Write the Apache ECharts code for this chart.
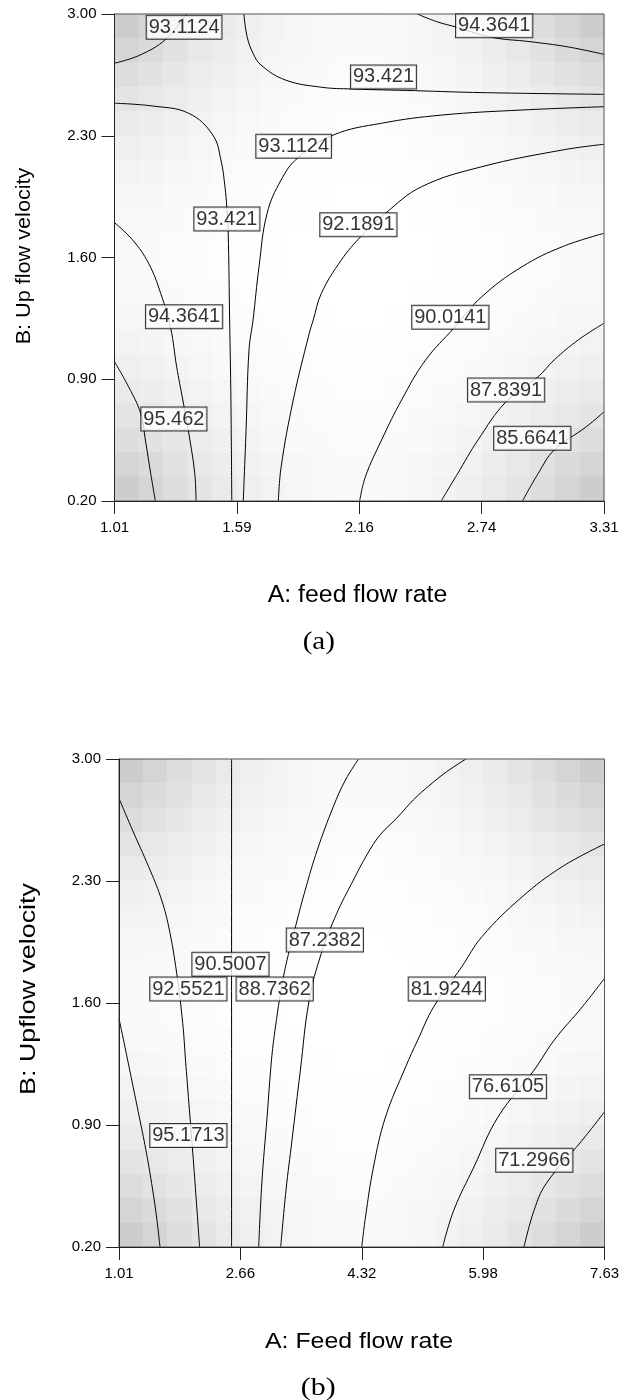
<!DOCTYPE html>
<html>
<head>
<meta charset="utf-8">
<title>Contour plots: feed flow rate vs upflow velocity</title>
<script src="https://cdn.jsdelivr.net/npm/echarts@6/dist/echarts.min.js"></script>
<style>
  html, body { margin: 0; padding: 0; background: #fff; }
  #chart { width: 629px; height: 1400px; }
</style>
</head>
<body>
<div id="chart"></div>
<script>
// ---------- axis ticks ----------
const X_TICKS_A = ['1.01', '1.59', '2.16', '2.74', '3.31'];
const X_TICKS_B = ['1.01', '2.66', '4.32', '5.98', '7.63'];
const Y_TICKS = ['0.20', '0.90', '1.60', '2.30', '3.00'];

// ---------- panel (a) contour lines: [A, B] ----------
const a_85_6641 = [[3.31, 0.713], [3.227, 0.627], [3.076, 0.493], [3.001, 0.359], [2.927, 0.2]];
const a_87_8391 = [[3.31, 1.222], [3.189, 1.126], [3.076, 1.011], [3.001, 0.915], [2.850, 0.771], [2.718, 0.551], [2.623, 0.359], [2.545, 0.2]];
const a_90_0141 = [[3.31, 1.739], [3.114, 1.662], [2.925, 1.547], [2.736, 1.375], [2.604, 1.193], [2.472, 1.011], [2.359, 0.781], [2.265, 0.551], [2.189, 0.340], [2.162, 0.2]];
const a_92_1891 = [[3.31, 2.251], [3.114, 2.218], [2.736, 2.122], [2.453, 2.007], [2.283, 1.854], [2.170, 1.724], [2.076, 1.586], [1.982, 1.394], [1.944, 1.241], [1.925, 1.164], [1.850, 0.781], [1.793, 0.397], [1.780, 0.2]];
const a_93_1124_top = [[1.01, 2.717], [1.130, 2.764], [1.251, 2.855], [1.349, 3.0]];
const a_93_1124_mid = [[3.31, 2.467], [2.925, 2.448], [2.548, 2.419], [2.265, 2.372], [2.038, 2.304], [1.869, 2.170], [1.793, 2.046], [1.727, 1.854], [1.689, 1.547], [1.661, 1.241], [1.642, 1.068], [1.628, 0.600], [1.615, 0.2]];
const a_93_421_upper = [[1.618, 3.0], [1.633, 2.870], [1.661, 2.774], [1.698, 2.707], [1.812, 2.621], [1.982, 2.579], [2.123, 2.569], [2.425, 2.559], [2.736, 2.548], [3.31, 2.538]];
const a_93_421_lower = [[1.01, 2.487], [1.189, 2.471], [1.359, 2.429], [1.472, 2.304], [1.510, 2.161], [1.529, 2.007], [1.538, 1.883], [1.544, 1.754], [1.551, 1.241], [1.557, 0.781], [1.561, 0.2]];
const a_94_3641_top = [[2.433, 3.0], [2.524, 2.956], [2.618, 2.924], [2.782, 2.866], [2.962, 2.841], [3.135, 2.812], [3.31, 2.768]];
const a_94_3641_left = [[1.01, 1.800], [1.095, 1.701], [1.170, 1.567], [1.227, 1.394], [1.274, 1.193], [1.302, 0.972], [1.331, 0.781], [1.359, 0.589], [1.387, 0.359], [1.393, 0.2]];
const a_95_462 = [[1.01, 1.001], [1.076, 0.857], [1.133, 0.704], [1.155, 0.551], [1.180, 0.359], [1.202, 0.2]];

const CONTOURS_A = [a_85_6641, a_87_8391, a_90_0141, a_92_1891, a_93_1124_top, a_93_1124_mid,
  a_93_421_upper, a_93_421_lower, a_94_3641_top, a_94_3641_left, a_95_462];

// contour level labels: [A, B, level]
const LABELS_A = [
  [1.337, 2.924, 93.1124], [2.794, 2.933, 94.3641], [2.274, 2.638, 93.421],
  [1.852, 2.240, 93.1124], [1.538, 1.821, 93.421], [2.156, 1.789, 92.1891],
  [1.337, 1.260, 94.3641], [2.588, 1.257, 90.0141], [2.850, 0.838, 87.8391],
  [1.289, 0.671, 95.462], [2.973, 0.561, 85.6641]
];

// ---------- panel (b) contour lines: [A, B] ----------
const b_71_2966 = [[7.63, 0.975], [7.327, 0.813], [6.835, 0.564], [6.670, 0.411], [6.532, 0.2]];
const b_76_6105 = [[7.63, 1.741], [7.327, 1.578], [6.944, 1.387], [6.670, 1.215], [6.178, 0.946], [5.849, 0.659], [5.575, 0.411], [5.424, 0.2]];
const b_81_9244 = [[7.63, 2.512], [7.053, 2.382], [6.506, 2.209], [5.958, 1.980], [5.684, 1.808], [5.301, 1.578], [5.083, 1.387], [4.918, 1.233], [4.644, 0.946], [4.480, 0.659], [4.371, 0.372], [4.320, 0.2]];
const b_87_2382 = [[5.741, 3.0], [5.478, 2.927], [5.250, 2.851], [5.023, 2.765], [4.796, 2.660], [4.569, 2.564], [4.390, 2.450], [4.206, 2.305], [3.980, 2.115], [3.768, 1.884], [3.603, 1.616], [3.483, 1.214], [3.369, 0.813], [3.287, 0.526], [3.215, 0.2]];
const b_88_7362 = [[4.277, 3.0], [4.097, 2.879], [3.932, 2.726], [3.714, 2.478], [3.549, 2.248], [3.440, 2.076], [3.301, 1.846], [3.220, 1.674], [3.137, 1.444], [3.089, 1.272], [3.029, 0.946], [2.957, 0.564], [2.915, 0.2]];
const b_90_5007 = [[2.545, 3.0], [2.545, 0.2]];
const b_92_5521 = [[1.01, 2.774], [1.194, 2.592], [1.414, 2.382], [1.577, 2.209], [1.688, 2.037], [1.797, 1.770], [1.879, 1.483], [1.917, 1.272], [1.962, 1.030], [2.016, 0.740], [2.065, 0.460], [2.109, 0.2]];
const b_95_1713 = [[1.01, 1.511], [1.100, 1.330], [1.190, 1.145], [1.285, 0.950], [1.375, 0.760], [1.455, 0.565], [1.520, 0.380], [1.569, 0.2]];

const CONTOURS_B = [b_71_2966, b_76_6105, b_81_9244, b_87_2382, b_88_7362, b_90_5007, b_92_5521, b_95_1713];

const LABELS_B = [
  [3.817, 1.961, 87.2382], [2.530, 1.823, 90.5007], [1.956, 1.680, 92.5521],
  [3.133, 1.680, 88.7362], [5.480, 1.680, 81.9244], [6.314, 1.119, 76.6105],
  [1.956, 0.840, 95.1713], [6.673, 0.698, 71.2966]
];

// ---------- background shading (grey level per cell, top row first) ----------
const SHADE = [
  [205, 213, 221, 228, 234, 239, 243, 246, 248, 249, 249, 248, 246, 243, 239, 234, 228, 221, 213, 205],
  [213, 219, 226, 232, 237, 241, 245, 247, 249, 250, 250, 249, 247, 245, 241, 237, 232, 226, 219, 213],
  [221, 226, 231, 236, 240, 244, 247, 249, 250, 251, 251, 250, 249, 247, 244, 240, 236, 231, 226, 221],
  [228, 232, 236, 240, 243, 246, 248, 250, 251, 252, 252, 251, 250, 248, 246, 243, 240, 236, 232, 228],
  [234, 237, 240, 243, 246, 248, 250, 251, 252, 253, 253, 252, 251, 250, 248, 246, 243, 240, 237, 234],
  [239, 241, 244, 246, 248, 250, 251, 252, 253, 254, 254, 253, 252, 251, 250, 248, 246, 244, 241, 239],
  [243, 245, 247, 248, 250, 251, 252, 253, 254, 254, 254, 254, 253, 252, 251, 250, 248, 247, 245, 243],
  [246, 247, 249, 250, 251, 252, 253, 254, 254, 255, 255, 254, 254, 253, 252, 251, 250, 249, 247, 246],
  [248, 249, 250, 251, 252, 253, 254, 254, 255, 255, 255, 255, 254, 254, 253, 252, 251, 250, 249, 248],
  [249, 250, 251, 252, 253, 254, 254, 255, 255, 255, 255, 255, 255, 254, 254, 253, 252, 251, 250, 249],
  [249, 250, 251, 252, 253, 254, 254, 255, 255, 255, 255, 255, 255, 254, 254, 253, 252, 251, 250, 249],
  [248, 249, 250, 251, 252, 253, 254, 254, 255, 255, 255, 255, 254, 254, 253, 252, 251, 250, 249, 248],
  [246, 247, 249, 250, 251, 252, 253, 254, 254, 255, 255, 254, 254, 253, 252, 251, 250, 249, 247, 246],
  [243, 245, 247, 248, 250, 251, 252, 253, 254, 254, 254, 254, 253, 252, 251, 250, 248, 247, 245, 243],
  [239, 241, 244, 246, 248, 250, 251, 252, 253, 254, 254, 253, 252, 251, 250, 248, 246, 244, 241, 239],
  [234, 237, 240, 243, 246, 248, 250, 251, 252, 253, 253, 252, 251, 250, 248, 246, 243, 240, 237, 234],
  [228, 232, 236, 240, 243, 246, 248, 250, 251, 252, 252, 251, 250, 248, 246, 243, 240, 236, 232, 228],
  [221, 226, 231, 236, 240, 244, 247, 249, 250, 251, 251, 250, 249, 247, 244, 240, 236, 231, 226, 221],
  [213, 219, 226, 232, 237, 241, 245, 247, 249, 250, 250, 249, 247, 245, 241, 237, 232, 226, 219, 213],
  [205, 213, 221, 228, 234, 239, 243, 246, 248, 249, 249, 248, 246, 243, 239, 234, 228, 221, 213, 205]
];

// ---------- option building ----------
const SANS = '"Liberation Sans", Arial, Helvetica, sans-serif';
const SERIF = '"Liberation Serif", "Times New Roman", serif';
const CELLS = SHADE[0].map((_, i) => i);
const shadeData = [];
SHADE.forEach((row, r) => row.forEach((g, c) => shadeData.push([c, r, g])));

function valueAxis(gridIndex, min, max, interval, labels, isX) {
  return {
    type: 'value', gridIndex, min, max, interval, z: 6,
    axisLine: { show: true, onZero: false, lineStyle: { color: '#222', width: 1 } },
    axisTick: { show: true, inside: false, length: 13, lineStyle: { color: '#222', width: 1 } },
    axisLabel: {
      show: true, margin: isX ? 19 : 18, fontSize: 15, fontFamily: SANS, color: '#000',
      showMinLabel: true, showMaxLabel: true,
      formatter: v => labels[Math.round((v - min) / interval)]
    },
    splitLine: { show: false }
  };
}
function cellAxis(gridIndex, inverse) {
  return { type: 'category', gridIndex, data: CELLS, show: false, inverse, boundaryGap: true };
}

function contourSeries(list, axisIdx) {
  return list.map(pts => ({
    type: 'line', xAxisIndex: axisIdx, yAxisIndex: axisIdx, data: pts,
    smooth: 0.4, symbol: 'none', silent: true, z: 3,
    lineStyle: { color: '#000', width: 1 }
  }));
}
function labelSeries(list, axisIdx) {
  return {
    type: 'scatter', xAxisIndex: axisIdx, yAxisIndex: axisIdx, symbolSize: 0, silent: true, z: 4,
    data: list.map(([a, b, lv]) => [a, b, lv]),
    label: {
      show: true, position: 'inside', formatter: p => String(p.value[2]),
      fontSize: 20, fontFamily: SANS, color: '#000', lineHeight: 20,
      backgroundColor: '#fff', borderColor: '#000', borderWidth: 1, padding: [2, 2, 1, 2]
    }
  };
}

const gridStyle = { show: true, z: 5, backgroundColor: 'transparent', borderColor: '#555', borderWidth: 1 };

const option = {
  animation: false,
  backgroundColor: '#fff',
  grid: [
    Object.assign({ left: 114.5, top: 14, width: 489.5, height: 487 }, gridStyle),
    Object.assign({ left: 119, top: 759, width: 485.5, height: 488 }, gridStyle)
  ],
  xAxis: [
    valueAxis(0, 1.01, 3.31, 0.575, X_TICKS_A, true),
    cellAxis(0, false),
    valueAxis(1, 1.01, 7.63, 1.655, X_TICKS_B, true),
    cellAxis(1, false)
  ],
  yAxis: [
    valueAxis(0, 0.2, 3.0, 0.7, Y_TICKS, false),
    cellAxis(0, true),
    valueAxis(1, 0.2, 3.0, 0.7, Y_TICKS, false),
    cellAxis(1, true)
  ],
  visualMap: {
    type: 'continuous', show: false, seriesIndex: [0, 1], dimension: 2,
    min: 200, max: 255, inRange: { color: ['#c8c8c8', '#ffffff'] }
  },
  series: [
    { type: 'heatmap', xAxisIndex: 1, yAxisIndex: 1, data: shadeData, silent: true, z: 1 },
    { type: 'heatmap', xAxisIndex: 3, yAxisIndex: 3, data: shadeData, silent: true, z: 1 },
    ...contourSeries(CONTOURS_A, 0),
    ...contourSeries(CONTOURS_B, 2),
    labelSeries(LABELS_A, 0),
    labelSeries(LABELS_B, 2)
  ],
  graphic: [
    { type: 'text', x: 24.7, y: 256, rotation: Math.PI / 2, scaleX: 1.03,
      style: { text: 'B: Up flow velocity', fontSize: 21, fontFamily: SANS, fill: '#000', align: 'center', verticalAlign: 'middle' } },
    { type: 'text', x: 357.5, y: 596, scaleX: 1.08,
      style: { text: 'A: feed flow rate', fontSize: 23, fontFamily: SANS, fill: '#000', align: 'center', verticalAlign: 'middle' } },
    { type: 'text', x: 318.8, y: 641.7, scaleX: 1.12,
      style: { text: '(a)', fontSize: 26, fontFamily: SERIF, fill: '#000', align: 'center', verticalAlign: 'middle' } },
    { type: 'text', x: 28.7, y: 989, rotation: Math.PI / 2, scaleX: 1.22,
      style: { text: 'B: Upflow velocity', fontSize: 22, fontFamily: SANS, fill: '#000', align: 'center', verticalAlign: 'middle' } },
    { type: 'text', x: 359, y: 1341.7, scaleX: 1.13,
      style: { text: 'A: Feed flow rate', fontSize: 22, fontFamily: SANS, fill: '#000', align: 'center', verticalAlign: 'middle' } },
    { type: 'text', x: 318.3, y: 1388, scaleX: 1.15,
      style: { text: '(b)', fontSize: 26, fontFamily: SERIF, fill: '#000', align: 'center', verticalAlign: 'middle' } }
  ]
};

const chart = echarts.init(document.getElementById('chart'));
chart.setOption(option);
</script>
</body>
</html>
